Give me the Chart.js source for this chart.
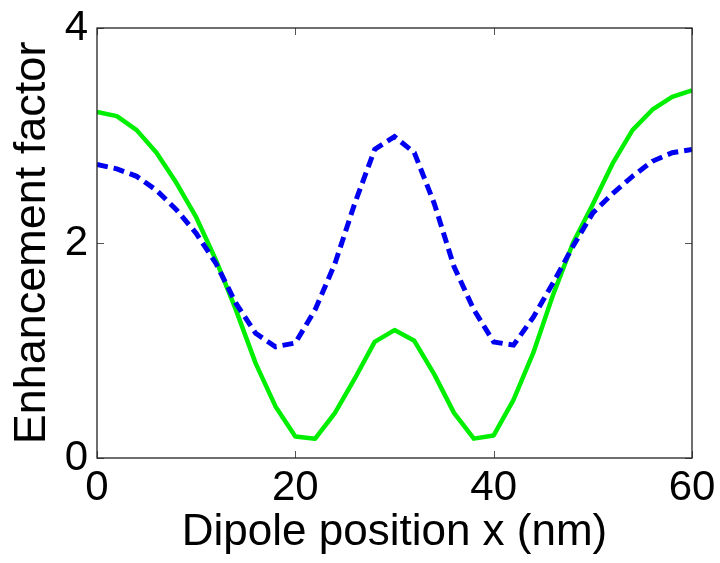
<!DOCTYPE html>
<html>
<head>
<meta charset="utf-8">
<title>Enhancement factor vs dipole position</title>
<script src="https://cdn.jsdelivr.net/npm/chart.js@4/dist/chart.umd.min.js"></script>
<style>
  html, body { margin: 0; padding: 0; background: #ffffff; }
  canvas { display: block; }
</style>
</head>
<body>
<canvas id="chart" width="720" height="563"></canvas>
<script>
// Dipole positions along x (nm)
const positions = [0, 2, 4, 6, 8, 10, 12, 14, 16, 18, 20, 22, 24, 26, 28, 30,
                   32, 34, 36, 38, 40, 42, 44, 46, 48, 50, 52, 54, 56, 58, 60];

// Solid green curve
const solidCurve = [3.22, 3.18, 3.05, 2.84, 2.56, 2.24, 1.84, 1.38, 0.88, 0.48, 0.20,
                    0.18, 0.42, 0.74, 1.08, 1.19, 1.09, 0.78, 0.42, 0.18, 0.21,
                    0.54, 0.98, 1.52, 2.00, 2.36, 2.74, 3.05, 3.24, 3.36, 3.42];

// Dashed blue curve
const dashedCurve = [2.73, 2.69, 2.62, 2.49, 2.31, 2.09, 1.81, 1.44, 1.16, 1.035, 1.07,
                     1.38, 1.81, 2.37, 2.87, 2.99, 2.84, 2.37, 1.78, 1.38, 1.08,
                     1.05, 1.31, 1.63, 1.97, 2.28, 2.46, 2.62, 2.76, 2.84, 2.87];

const xTicks = [0, 20, 40, 60];
const yTicks = [0, 2, 4];

const toPoints = (ys) => positions.map((x, i) => ({ x: x, y: ys[i] }));

// Closed box around the plot with inward tick marks on all four sides
const boxAxes = {
  id: 'boxAxes',
  afterDatasetsDraw(chart) {
    const { ctx, chartArea: a, scales } = chart;
    const len = 7;
    ctx.save();
    ctx.strokeStyle = '#555555';
    ctx.lineWidth = 1;
    ctx.beginPath();
    xTicks.forEach(v => {
      const px = Math.round(scales.x.getPixelForValue(v)) + 0.5;
      ctx.moveTo(px, a.bottom); ctx.lineTo(px, a.bottom - len);
      ctx.moveTo(px, a.top);    ctx.lineTo(px, a.top + len);
    });
    yTicks.forEach(v => {
      const py = Math.round(scales.y.getPixelForValue(v)) + 0.5;
      ctx.moveTo(a.left, py);  ctx.lineTo(a.left + len, py);
      ctx.moveTo(a.right, py); ctx.lineTo(a.right - len, py);
    });
    ctx.stroke();
    ctx.strokeStyle = '#222222';
    ctx.lineWidth = 1.3;
    ctx.strokeRect(a.left, a.top, a.right - a.left, a.bottom - a.top);
    ctx.restore();
  }
};

const tickFont = { family: '"Liberation Sans", Arial, sans-serif', size: 42 };

new Chart(document.getElementById('chart'), {
  type: 'line',
  data: {
    datasets: [
      {
        data: toPoints(dashedCurve),
        borderColor: '#0000f0',
        borderWidth: 5,
        borderDash: [11, 6],
        borderCapStyle: 'butt',
        pointRadius: 0,
        tension: 0,
        fill: false,
        order: 0
      },
      {
        data: toPoints(solidCurve),
        borderColor: '#00ee00',
        borderWidth: 4.5,
        borderJoinStyle: 'round',
        pointRadius: 0,
        tension: 0,
        fill: false,
        order: 1
      }
    ]
  },
  options: {
    responsive: false,
    animation: false,
    devicePixelRatio: 1,
    layout: { padding: { left: 8, right: 28, top: 28, bottom: 0 } },
    plugins: {
      legend: { display: false },
      tooltip: { enabled: false }
    },
    scales: {
      x: {
        type: 'linear',
        min: 0,
        max: 60,
        afterBuildTicks: (s) => { s.ticks = xTicks.map(v => ({ value: v })); },
        afterFit: (s) => {
          s.height = 105;
          s.paddingLeft = 0; s.paddingRight = 0;
        },
        grid: { display: false, drawTicks: false },
        border: { display: false },
        ticks: { font: tickFont, color: '#000000', padding: 5, maxRotation: 0, autoSkip: false },
        title: {
          display: true,
          text: 'Dipole position x (nm)',
          color: '#000000',
          font: { family: '"Liberation Sans", Arial, sans-serif', size: 44 },
          padding: { top: 0, bottom: 4 }
        }
      },
      y: {
        type: 'linear',
        min: 0,
        max: 4,
        afterBuildTicks: (s) => { s.ticks = yTicks.map(v => ({ value: v })); },
        afterFit: (s) => {
          s.width = 89;
          s.paddingTop = 0; s.paddingBottom = 0;
        },
        grid: { display: false, drawTicks: false },
        border: { display: false },
        ticks: { font: tickFont, color: '#000000', padding: 9, autoSkip: false },
        title: {
          display: true,
          text: 'Enhancement factor',
          color: '#000000',
          font: { family: '"Liberation Sans", Arial, sans-serif', size: 45, lineHeight: 1 },
          padding: { top: 2, bottom: 0 }
        }
      }
    }
  },
  plugins: [boxAxes]
});
</script>
</body>
</html>
